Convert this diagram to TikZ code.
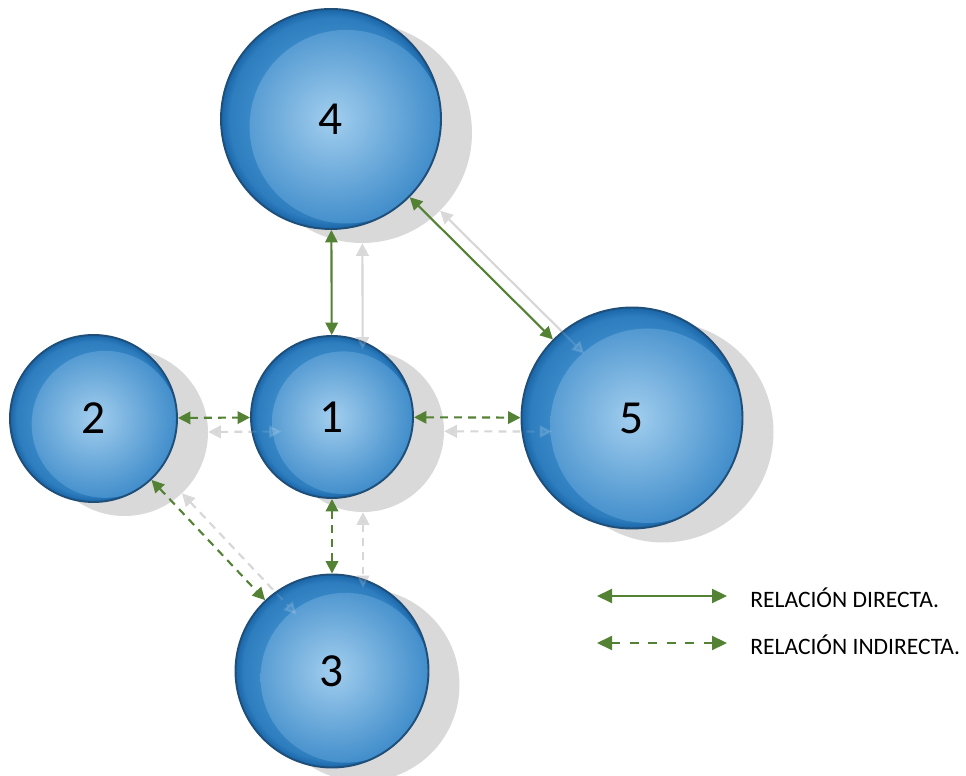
\documentclass[tikz,border=0pt]{standalone}
\usepackage{fontspec}
\setmainfont{Carlito}
\usetikzlibrary{arrows.meta}
\definecolor{rel}{HTML}{548235}
\definecolor{ballrim}{HTML}{1F4E79}
\definecolor{ballout}{HTML}{1966A8}
\definecolor{ballcres}{HTML}{3787C7}
\definecolor{ballshell}{HTML}{7DBAE6}
\definecolor{ballin}{HTML}{A2CEEE}
\definecolor{ballmid}{HTML}{3F8CCA}
\definecolor{ballshadow}{HTML}{D9D9D9}
\definecolor{ghostgrey}{HTML}{D2D2D2}
\pgfdeclareradialshading{shell}{\pgfpointorigin}{color(0bp)=(ballshell);
  color(19bp)=(ballcres); color(23bp)=(ballcres!70!ballout); color(25bp)=(ballout);
  color(50bp)=(ballout)}

\begin{document}
\begin{tikzpicture}[>={Triangle[length=2.5mm,width=2.5mm]},
  ball/.style={circle,draw=ballrim,line width=1.1pt,minimum size=#1cm,inner sep=0pt,
    shade,shading=shell,font=\fontsize{27}{32}\selectfont,
    path picture={\shade[inner color=ballin,outer color=ballmid]
      ([shift={(0.07*#1,-0.035*#1)}]path picture bounding box.center) circle ({0.44*#1});}},
  shadowball/.style={circle,fill=ballshadow,minimum size=#1cm,inner sep=0pt},
  direct/.style={<->,rel,line width=1.2pt},
  indirect/.style={direct,dash pattern=on 4.5pt off 3.5pt},
  legend/.style={anchor=west,inner sep=0pt,font=\fontsize{13.4}{16}\selectfont}]
\useasboundingbox (0,0) rectangle (19.32,15.5);

% shadows
\foreach \n/\x/\y/\d in {4/6.62/13.12/4.4, 1/6.64/7.16/3.24, 2/1.87/7.13/3.34,
    5/12.64/7.14/4.42, 3/6.64/2.08/3.86}
  \node[shadowball=\d] (s\n) at (\x+0.62,\y-0.28) {};
\foreach \a/\b/\s in {4/1/direct, 4/5/direct, 2/1/indirect, 1/5/indirect,
    1/3/indirect, 2/3/indirect}
  \draw[\s,draw=ghostgrey] (s\a) -- (s\b);

% spheres
\node[ball=4.4] (n4) at (6.62,13.12) {4};
\node[ball=3.24] (n1) at (6.64,7.16) {1};
\node[ball=3.34] (n2) at (1.87,7.13) {2};
\node[ball=4.42] (n5) at (12.64,7.14) {5};
\node[ball=3.86] (n3) at (6.64,2.08) {3};

\foreach \a/\b/\s in {4/1/direct, 4/5/direct, 2/1/indirect, 1/5/indirect,
    1/3/indirect, 2/3/indirect}
  \draw[\s,draw=white,opacity=0.12] (s\a) -- (s\b);

% relations
\draw[direct] (n4) -- (n1);
\draw[direct] (n4) -- (n5);
\draw[indirect] (n2) -- (n1);
\draw[indirect] (n1) -- (n5);
\draw[indirect] (n1) -- (n3);
\draw[indirect] (n2) -- (n3);

% legend
\coordinate (d1) at (11.94,3.58);
\coordinate (d2) at (14.54,3.58);
\coordinate (i1) at (11.94,2.64);
\coordinate (i2) at (14.54,2.64);
\draw[direct,>={Triangle[length=3mm,width=2.8mm]}] (d1) -- (d2);
\draw[indirect,dash pattern=on 5pt off 5.5pt,>={Triangle[length=3mm,width=2.8mm]}] (i1) -- (i2);
\node[legend] (ld) at (15.0,3.54) {RELACIÓN DIRECTA.};
\node[legend] (li) at (15.0,2.60) {RELACIÓN INDIRECTA.};
\end{tikzpicture}
\end{document}
